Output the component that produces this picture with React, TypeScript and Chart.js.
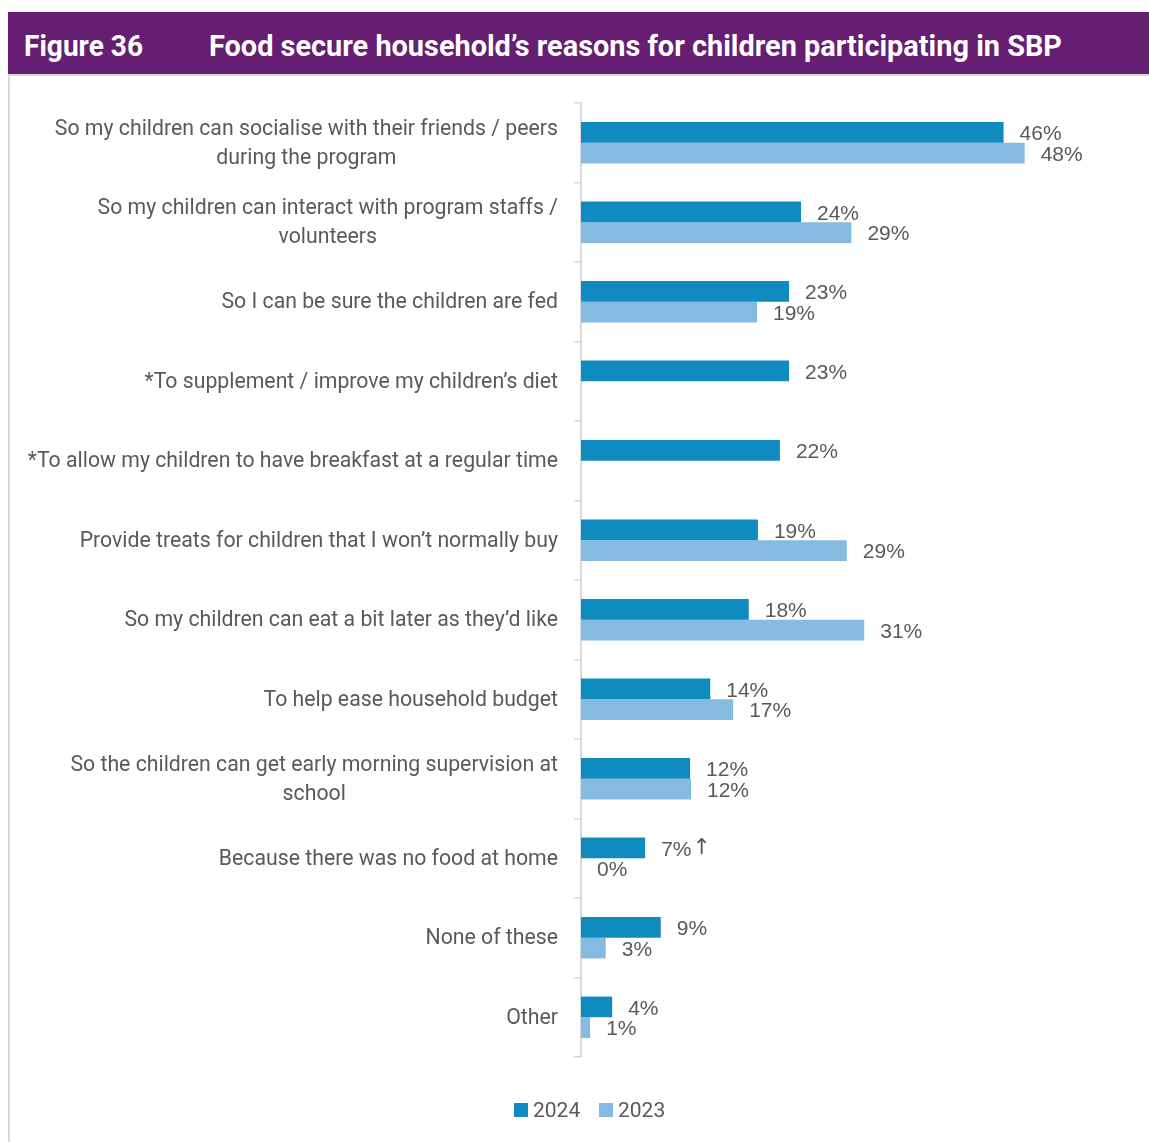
import React, { useEffect, useRef } from "react";
import { Chart, registerables } from "chart.js";

Chart.register(...registerables);

const categories: string[][] = [
  ["So my children can socialise with their friends / peers", "during the program"],
  ["So my children can interact with program staffs /", "volunteers"],
  ["So I can be sure the children are fed"],
  ["*To supplement / improve my children’s diet"],
  ["*To allow my children to have breakfast at a regular time"],
  ["Provide treats for children that I won’t normally buy"],
  ["So my children can eat a bit later as they’d like"],
  ["To help ease household budget"],
  ["So the children can get early morning supervision at", "school"],
  ["Because there was no food at home"],
  ["None of these"],
  ["Other"],
];

const values2024: (number | null)[] = [46.1, 24.0, 22.7, 22.7, 21.7, 19.3, 18.3, 14.1, 11.9, 7.0, 8.7, 3.4];
const values2023: (number | null)[] = [48.4, 29.5, 19.2, null, null, 29.0, 30.9, 16.6, 12.0, 0, 2.7, 1.0];

const labels2024: string[] = ["46%", "24%", "23%", "23%", "22%", "19%", "18%", "14%", "12%", "7%↑", "9%", "4%"];
const labels2023: string[] = ["48%", "29%", "19%", "", "", "29%", "31%", "17%", "12%", "0%", "3%", "1%"];

const seriesNames = ["2024", "2023"];
const seriesColors = ["#0F8BBF", "#85BBE0"];

const FONT = "Roboto, 'Noto Sans', sans-serif";
const VFONT = "'Liberation Sans', Arial, sans-serif";
const TEXT = "#595959";

const valueLabelPlugin = {
  id: "valueLabels",
  afterDatasetsDraw(chart: any) {
    const ctx = chart.ctx;
    const texts = [labels2024, labels2023];
    ctx.save();
    ctx.fillStyle = TEXT;
    ctx.textAlign = "left";
    ctx.textBaseline = "middle";
    chart.data.datasets.forEach((ds: any, di: number) => {
      const meta = chart.getDatasetMeta(di);
      meta.data.forEach((bar: any, i: number) => {
        const v = ds.data[i];
        if (v === null || v === undefined) return;
        const t = texts[di][i];
        if (!t) return;
        const x = bar.x + 16;
        const y = bar.y + 2;
        if (t.endsWith("↑")) {
          const main = t.slice(0, -1);
          ctx.font = `21px ${VFONT}`;
          ctx.fillText(main, x, y);
          const w = ctx.measureText(main).width;
          ctx.font = `22px 'DejaVu Sans', sans-serif`;
          ctx.fillText("↑", x + w + 1, y - 2);
        } else {
          ctx.font = `21px ${VFONT}`;
          ctx.fillText(t, x, y);
        }
      });
    });
    ctx.restore();
  },
};

const categoryLabelPlugin = {
  id: "categoryLabels",
  afterDraw(chart: any) {
    const ctx = chart.ctx;
    const yScale = chart.scales.y;
    const right = 558;
    const lh = 29;
    ctx.save();
    ctx.font = `21.25px ${FONT}`;
    ctx.fillStyle = TEXT;
    ctx.textAlign = "center";
    ctx.textBaseline = "middle";
    categories.forEach((lines, i) => {
      const cy = yScale.getPixelForValue(i);
      const w = Math.max(...lines.map((l) => ctx.measureText(l).width));
      const cx = right - w / 2;
      const top = cy - ((lines.length - 1) * lh) / 2;
      lines.forEach((l, j) => {
        ctx.fillText(l, cx, top + j * lh + 1);
      });
    });
    ctx.restore();
  },
};

export default function App() {
  const ref = useRef<HTMLCanvasElement | null>(null);

  useEffect(() => {
    if (!ref.current) return;
    const chart = new Chart(ref.current, {
      type: "bar",
      data: {
        labels: categories.map((c) => c.join(" ")),
        datasets: [
          {
            label: seriesNames[0],
            data: values2024,
            backgroundColor: seriesColors[0],
            categoryPercentage: 0.52,
            barPercentage: 1,
          },
          {
            label: seriesNames[1],
            data: values2023,
            backgroundColor: seriesColors[1],
            categoryPercentage: 0.52,
            barPercentage: 1,
          },
        ],
      },
      options: {
        indexAxis: "y",
        animation: false,
        responsive: false,
        maintainAspectRatio: false,
        layout: { padding: { top: 103, bottom: 85, left: 0, right: 18 } },
        plugins: {
          legend: { display: false },
          tooltip: { enabled: false },
        },
        scales: {
          x: {
            display: false,
            min: 0,
            max: 60,
          },
          y: {
            afterFit: (scale: any) => {
              scale.width = 581;
            },
            grid: {
              drawOnChartArea: false,
              drawTicks: true,
              tickLength: 7,
              color: "#D9D9D9",
              lineWidth: 1.5,
            },
            border: { display: true, color: "#D9D9D9", width: 2 },
            ticks: {
              color: "rgba(0,0,0,0)",
              padding: 16,
              font: { family: FONT, size: 12 },
            },
          },
        },
      },
      plugins: [valueLabelPlugin, categoryLabelPlugin],
    });
    return () => chart.destroy();
  }, []);

  return (
    <div style={{ position: "absolute", left: 0, top: 0, width: 1149, height: 1142, background: "#fff", overflow: "hidden" }}>
      <canvas ref={ref} width={1149} height={1142} style={{ position: "absolute", left: 0, top: 0, width: 1149, height: 1142 }} />
      <div style={{ position: "absolute", left: 8, top: 74, width: 1141, height: 2, background: "#D9D9D9" }} />
      <div style={{ position: "absolute", left: 8, top: 74, width: 2, height: 1068, background: "#D9D9D9" }} />
      <svg width={1149} height={80} style={{ position: "absolute", left: 0, top: 0 }}>
        <rect x={8} y={12} width={1141} height={62} fill="#661E72" />
        <text x={24} y={56} fill="#fff" fontFamily={FONT} fontWeight="bold" fontSize={29} textLength={119} lengthAdjust="spacingAndGlyphs">
          Figure 36
        </text>
        <text x={209} y={56} fill="#fff" fontFamily={FONT} fontWeight="bold" fontSize={29} textLength={853} lengthAdjust="spacingAndGlyphs">
          Food secure household’s reasons for children participating in SBP
        </text>
      </svg>
      {seriesNames.map((n, i) => (
        <div key={n} style={{ position: "absolute", left: i === 0 ? 514 : 599, top: 1096, height: 28, display: "flex", alignItems: "center", fontFamily: FONT, fontSize: 21, color: TEXT }}>
          <span style={{ display: "inline-block", width: 14, height: 14, background: seriesColors[i], marginRight: 5 }} />
          <span>{n}</span>
        </div>
      ))}
    </div>
  );
}
